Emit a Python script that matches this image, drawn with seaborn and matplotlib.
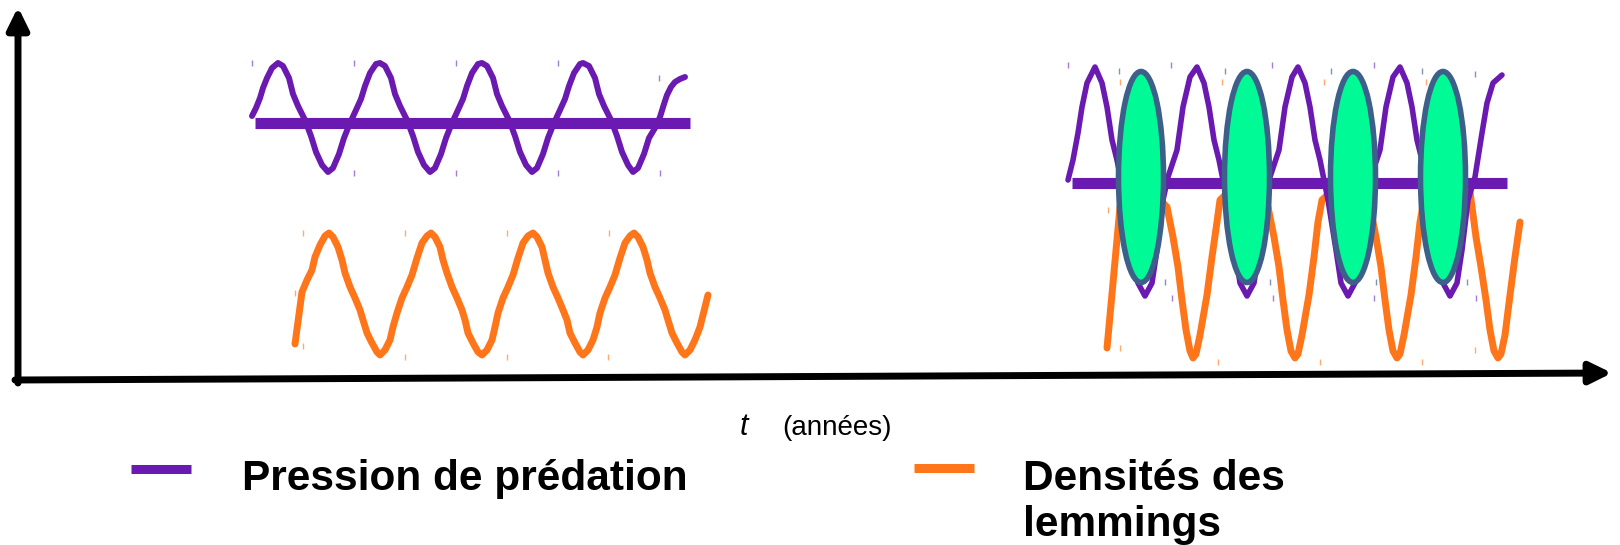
import matplotlib
matplotlib.use("Agg")
import matplotlib.pyplot as plt
import seaborn as sns
from matplotlib.patches import Ellipse

# colours
purple = "#6A1AB0"
orange = "#FF761A"
green = "#00FA96"
edge_blue = "#3C6089"

# left panel: predation pressure wave (x, y in picture units, y grows downwards)
lp_x = [252, 256, 260, 263, 267, 272, 278,
        283, 289, 293, 298, 305, 311, 316, 322, 328, 333, 339, 344, 350, 356, 361, 365, 370, 376,
        380, 385, 391, 395, 400, 407, 413, 418, 424, 430, 435, 441, 446, 452, 458, 463, 467, 472, 478,
        482, 487, 493, 497, 502, 509, 515, 520, 526, 532, 537, 543, 548, 554, 560, 565, 569, 574, 580,
        583, 589, 595, 599, 604, 611, 617, 622, 628, 633, 638, 644, 649, 655, 660, 664, 667, 671, 675, 680, 685]
lp_y = [116, 108, 98, 88, 78, 68, 63,
        66, 78, 94, 106, 120, 136, 152, 165, 172, 168, 154, 138, 123, 110, 99, 86, 73, 64,
        63, 66, 78, 94, 106, 120, 136, 152, 165, 172, 168, 154, 138, 123, 110, 99, 86, 73, 64,
        63, 66, 78, 94, 106, 120, 136, 152, 165, 172, 168, 154, 138, 123, 110, 99, 86, 73, 64,
        63, 66, 78, 94, 106, 120, 136, 152, 165, 172, 168, 154, 138, 128, 117, 104, 95, 87, 82, 79, 77]
lp_mean_x = [255, 690]
lp_mean_y = [123, 123]

# left panel: lemming density wave
lo_x = [295, 302, 307, 312, 315, 320, 325,
        329, 333, 338, 342, 345, 350, 355, 360, 363, 367, 372, 377, 380, 385, 390, 393, 397, 402, 407, 412, 417, 422, 427,
        431, 435, 440, 443, 447, 452, 457, 462, 465, 468, 473, 478, 482, 487, 492, 495, 498, 503, 508, 513, 518, 523, 528,
        533, 537, 542, 545, 548, 553, 558, 563, 567, 570, 575, 580, 583, 588, 593, 597, 600, 605, 610, 615, 620, 625, 630,
        634, 638, 643, 647, 650, 655, 660, 665, 668, 672, 677, 682, 685, 690, 695, 700, 704, 708]
lo_y = [344, 292, 280, 270, 257, 245, 236,
        233, 237, 247, 260, 273, 287, 298, 310, 320, 333, 343, 352, 355, 350, 340, 327, 313, 298, 287, 275, 258, 243, 236,
        233, 237, 247, 260, 273, 287, 298, 310, 320, 333, 343, 352, 355, 350, 340, 327, 313, 298, 287, 275, 258, 243, 236,
        233, 237, 247, 260, 273, 287, 298, 310, 320, 333, 343, 352, 355, 350, 340, 327, 313, 298, 287, 275, 258, 243, 236,
        233, 237, 247, 260, 273, 287, 298, 310, 320, 333, 343, 352, 355, 350, 340, 327, 311, 295]

# right panel: predation pressure wave
rp_x = [1068, 1073, 1078, 1082, 1087,
        1095, 1102, 1107, 1112, 1117, 1125, 1133, 1138, 1145, 1152, 1157, 1163, 1168, 1177, 1183, 1190,
        1197, 1204, 1209, 1214, 1219, 1227, 1235, 1240, 1247, 1254, 1259, 1265, 1270, 1279, 1285, 1292,
        1298, 1305, 1310, 1315, 1320, 1328, 1336, 1341, 1348, 1355, 1360, 1366, 1371, 1380, 1386, 1393,
        1400, 1407, 1412, 1417, 1422, 1430, 1438, 1443, 1450, 1457, 1462, 1468, 1475, 1482, 1487, 1493, 1502]
rp_y = [180, 160, 133, 107, 83,
        67, 83, 107, 140, 160, 200, 250, 283, 296, 283, 250, 200, 177, 150, 107, 77,
        67, 83, 107, 140, 160, 200, 250, 283, 296, 283, 250, 200, 177, 150, 107, 77,
        67, 83, 107, 140, 160, 200, 250, 283, 296, 283, 250, 200, 177, 150, 107, 77,
        67, 83, 107, 140, 160, 200, 250, 283, 296, 283, 250, 200, 177, 133, 103, 83, 75]
rp_mean_x = [1072, 1507]
rp_mean_y = [183, 183]

# right panel: lemming density wave
ro_x = [1107, 1120, 1130, 1140, 1155, 1167, 1173, 1178, 1182, 1186, 1190, 1193, 1196, 1200, 1207, 1212, 1217,
        1220, 1232, 1247, 1260, 1268, 1274, 1279, 1283, 1287, 1291, 1295, 1298, 1302, 1309, 1314, 1318,
        1322, 1335, 1350, 1362, 1370, 1376, 1381, 1385, 1389, 1393, 1397, 1400, 1404, 1411, 1416, 1420,
        1424, 1437, 1452, 1463, 1470, 1476, 1481, 1486, 1490, 1494, 1498, 1501, 1505, 1510, 1515, 1520]
ro_y = [348, 207, 190, 185, 195, 207, 237, 267, 300, 330, 351, 358, 354, 335, 295, 257, 222,
        200, 188, 185, 195, 207, 237, 267, 300, 330, 351, 358, 354, 335, 295, 257, 222,
        200, 188, 185, 195, 207, 237, 267, 300, 330, 351, 358, 354, 335, 295, 257, 222,
        200, 188, 185, 188, 192, 237, 267, 300, 330, 351, 358, 354, 335, 295, 257, 222]

# crisis ellipses (centres)
ell_x = [1141, 1247, 1353, 1443]
ell_y = [177, 177, 177, 177]

# small handle marks left over in the drawing
mark_purple_x = [252, 354, 456, 558, 659, 354, 456, 558, 660,
                 1068, 1171, 1272, 1374, 1475, 1172, 1273, 1374, 1476]
mark_purple_y = [63, 63, 63, 63, 78, 173, 173, 173, 173,
                 65, 65, 65, 65, 74, 298, 298, 298, 298]
mark_orange_x = [303, 405, 507, 609, 295, 303, 405, 507, 608, 690,
                 1120, 1222, 1324, 1426, 1108, 1120, 1218, 1320, 1422, 1475]
mark_orange_y = [233, 233, 233, 233, 293, 346, 357, 357, 357, 348,
                 82, 82, 82, 82, 210, 348, 362, 362, 362, 350]
mark_blue_x = [1119, 1225, 1331, 1422, 1165, 1270, 1376, 1467]
mark_blue_y = [71, 71, 71, 71, 282, 282, 282, 282]

legend_labels = ["Pression de prédation", "Densités des\nlemmings"]
axis_label = "(années)"

sns.set_theme(style="white")
plt.rcParams["font.family"] = ["Liberation Sans", "DejaVu Sans"]

fig = plt.figure(figsize=(16.2, 5.45), dpi=100)
ax = fig.add_axes([0, 0, 1, 1])
ax.set_xlim(0, 1620)
ax.set_ylim(545, 0)
ax.axis("off")

# handle marks
ax.plot(mark_purple_x, mark_purple_y, ls="none", marker="|", ms=4, mew=1, color="#A57DD6")
ax.plot(mark_orange_x, mark_orange_y, ls="none", marker="|", ms=4, mew=1, color="#FFAA70")
ax.plot(mark_blue_x, mark_blue_y, ls="none", marker="|", ms=4, mew=1, color="#7E96B4")

# waves
sns.lineplot(x=lo_x, y=lo_y, sort=False, estimator=None, color=orange, linewidth=5, ax=ax)
sns.lineplot(x=ro_x, y=ro_y, sort=False, estimator=None, color=orange, linewidth=5, ax=ax)
sns.lineplot(x=lp_x, y=lp_y, sort=False, estimator=None, color=purple, linewidth=4.3, ax=ax)
sns.lineplot(x=rp_x, y=rp_y, sort=False, estimator=None, color=purple, linewidth=4, ax=ax)
ax.plot(lp_mean_x, lp_mean_y, color=purple, lw=8, solid_capstyle="butt")
ax.plot(rp_mean_x, rp_mean_y, color=purple, lw=8, solid_capstyle="butt")
for line in ax.lines:
    line.set_solid_joinstyle("round")

for cx, cy in zip(ell_x, ell_y):
    ax.add_patch(Ellipse((cx, cy), 45, 211, facecolor=green, edgecolor=edge_blue, lw=4, zorder=5))

# axes arrows
arrow = dict(arrowstyle="-|>,head_length=0.65,head_width=0.32", lw=5, color="black",
             mutation_scale=20, shrinkA=0, shrinkB=0)
ax.annotate("", xy=(18, 7), xytext=(18, 383), arrowprops=arrow)
ax.annotate("", xy=(1612, 373), xytext=(15, 380), arrowprops=arrow)

# axis label
ax.text(740, 435, "t", fontsize=22, style="italic", ha="left", va="baseline", color="black")
ax.text(782, 435, axis_label, fontsize=20, ha="left", va="baseline", color="black")

# legend
ax.plot([131, 191], [469, 469], color=purple, lw=6.5, solid_capstyle="butt")
ax.plot([914, 974], [468, 468], color=orange, lw=6.5, solid_capstyle="butt")
ax.text(242, 490, legend_labels[0], fontsize=30.5, fontweight="bold", ha="left", va="baseline", color="black")
for i, part in enumerate(legend_labels[1].split("\n")):
    ax.text(1023, 490 + 46 * i, part, fontsize=30.5, fontweight="bold", ha="left", va="baseline", color="black")

fig.savefig("out.png", dpi=100, facecolor="white")
